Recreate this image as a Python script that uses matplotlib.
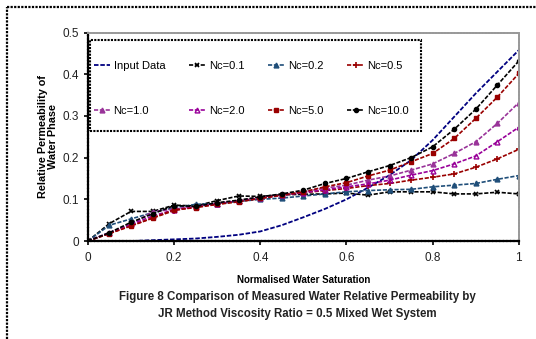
import numpy as np
import matplotlib.pyplot as plt
from matplotlib.lines import Line2D
from matplotlib.patches import Rectangle

plt.rcParams['font.family'] = ['Liberation Sans', 'DejaVu Sans']

sw = [0, .05, .1, .15, .2, .25, .3, .35, .4, .45, .5,
      .55, .6, .65, .7, .75, .8, .85, .9, .95, 1]

input_data = [0, 0, 0, 0.002, 0.004, 0.006, 0.01, 0.015, 0.023, 0.038, 0.057,
              0.077, 0.1, 0.128, 0.158, 0.194, 0.242, 0.298, 0.354, 0.406, 0.458]
nc_01 = [0, 0.042, 0.071, 0.071, 0.086, 0.084, 0.097, 0.108, 0.107, 0.111, 0.112,
         0.113, 0.115, 0.110, 0.118, 0.118, 0.118, 0.113, 0.113, 0.117, 0.113]
nc_02 = [0, 0.038, 0.053, 0.068, 0.08, 0.088, 0.09, 0.095, 0.1, 0.103, 0.108,
         0.113, 0.118, 0.121, 0.123, 0.124, 0.13, 0.134, 0.138, 0.148, 0.157]
nc_05 = [0, 0.018, 0.037, 0.055, 0.073, 0.082, 0.088, 0.096, 0.103, 0.11, 0.116,
         0.121, 0.126, 0.133, 0.138, 0.146, 0.153, 0.161, 0.177, 0.197, 0.22]
nc_1 = [0, 0.02, 0.04, 0.07, 0.077, 0.083, 0.09, 0.097, 0.105, 0.112, 0.118,
        0.127, 0.134, 0.146, 0.156, 0.17, 0.185, 0.21, 0.238, 0.282, 0.332]
nc_2 = [0, 0.02, 0.04, 0.06, 0.075, 0.082, 0.09, 0.096, 0.103, 0.11, 0.116,
        0.123, 0.13, 0.137, 0.146, 0.158, 0.169, 0.185, 0.204, 0.238, 0.273]
nc_5 = [0, 0.018, 0.036, 0.055, 0.075, 0.08, 0.088, 0.094, 0.102, 0.11, 0.118,
        0.13, 0.14, 0.156, 0.17, 0.19, 0.21, 0.246, 0.294, 0.345, 0.402]
nc_10 = [0, 0.02, 0.045, 0.065, 0.085, 0.083, 0.092, 0.098, 0.106, 0.113, 0.122,
         0.138, 0.15, 0.166, 0.181, 0.2, 0.226, 0.268, 0.316, 0.374, 0.432]

fig = plt.figure(figsize=(5.36, 3.39), dpi=100)
ax = fig.add_axes([0.164, 0.289, 0.804, 0.615])

dash = (0, (2.5, 1))
h_in, = ax.plot(sw, input_data, color='#000080', ls=dash, lw=1.3, label='Input Data')
h01, = ax.plot(sw, nc_01, color='black', ls=dash, lw=1.2, marker='x', ms=3.5, mew=1.2, label='Nc=0.1')
h02, = ax.plot(sw, nc_02, color='#1F4E79', ls=dash, lw=1.2, marker='^', ms=3.5, label='Nc=0.2')
h05, = ax.plot(sw, nc_05, color='#990000', ls=dash, lw=1.2, marker='+', ms=4.5, mew=1.2, label='Nc=0.5')
h1, = ax.plot(sw, nc_1, color='#993399', ls=dash, lw=1.2, marker='^', ms=3.5, label='Nc=1.0')
h2, = ax.plot(sw, nc_2, color='#990099', ls=dash, lw=1.2, marker='^', ms=3.5, mfc='none', label='Nc=2.0')
h5, = ax.plot(sw, nc_5, color='#990000', ls=dash, lw=1.2, marker='s', ms=3, label='Nc=5.0')
h10, = ax.plot(sw, nc_10, color='black', ls=dash, lw=1.2, marker='o', ms=3, label='Nc=10.0')

ax.set_xlim(0, 1)
ax.set_ylim(0, 0.5)
ax.set_xticks([0, 0.2, 0.4, 0.6, 0.8, 1])
ax.set_xticklabels(['0', '0.2', '0.4', '0.6', '0.8', '1'])
ax.set_yticks([0, 0.1, 0.2, 0.3, 0.4, 0.5])
ax.set_yticklabels(['0', '0.1', '0.2', '0.3', '0.4', '0.5'])
ax.tick_params(labelsize=8.5, length=3, width=1.2, color='black', labelcolor='#222222')
ax.tick_params(axis='x', pad=5)

for s in ['left', 'bottom']:
    ax.spines[s].set_linestyle((0, (1, 0.6)))
    ax.spines[s].set_linewidth(1.6)
for s in ['top', 'right']:
    ax.spines[s].set_color('#999999')
    ax.spines[s].set_linestyle((0, (1, 0.6)))
    ax.spines[s].set_linewidth(1.4)

ax.set_xlabel('Normalised Water Saturation', fontsize=7, fontweight='bold', labelpad=8)
ax.set_ylabel('Relative Permeability of\nWater Phase', fontsize=7.8, fontweight='bold',
              labelpad=3, linespacing=1.0)

# legend box drawn separately so the entries can sit where they do in the original
box = Rectangle((0.005, 0.528), 0.768, 0.436, transform=ax.transAxes,
                facecolor='white', edgecolor='black', lw=1.5,
                ls=(0, (1, 0.6)), zorder=4.5)
ax.add_patch(box)

# legend filled column by column, so order the handles to read row-wise
order = [h_in, h1, h01, h2, h02, h5, h05, h10]
leg = ax.legend(handles=order, ncol=4, loc='center',
                bbox_to_anchor=(0.008, 0.6, 0.742, 0.265),
                mode='expand', fontsize=8, frameon=False,
                handlelength=1.5, handletextpad=0.3, columnspacing=0.8,
                labelspacing=3.1, borderaxespad=0, borderpad=0.2)

fig.text(0.555, 0.124, 'Figure 8 Comparison of Measured Water Relative Permeability by',
         ha='center', va='center', fontsize=8.3, fontweight='bold', color='#222222')
fig.text(0.555, 0.074, 'JR Method Viscosity Ratio = 0.5 Mixed Wet System',
         ha='center', va='center', fontsize=8.3, fontweight='bold', color='#222222')

# dotted page frame on left and top
fig.add_artist(Line2D([0.013, 0.013], [0, 0.979], transform=fig.transFigure,
                      color='black', lw=1.6, ls=(0, (1, 0.6))))
fig.add_artist(Line2D([0.013, 1], [0.979, 0.979], transform=fig.transFigure,
                      color='black', lw=1.6, ls=(0, (1, 0.6))))

fig.savefig('out.png', dpi=100)
